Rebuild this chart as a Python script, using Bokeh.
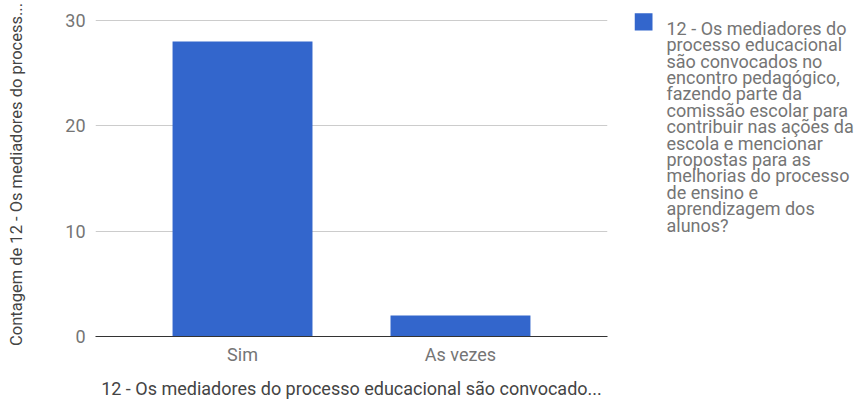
from bokeh.plotting import figure
from bokeh.models import ColumnDataSource, FactorRange, Range1d, FixedTicker
from bokeh.layouts import row
from bokeh.embed import file_html
from bokeh.resources import INLINE

categories = ["Sim", "As vezes"]
counts = [28, 2]
y_ticks = [0, 10, 20, 30]
series_lines = ["12 - Os mediadores do", "processo educacional", "são convocados no",
                "encontro pedagógico,", "fazendo parte da", "comissão escolar para",
                "contribuir nas ações da", "escola e mencionar", "propostas para as",
                "melhorias do processo", "de ensino e", "aprendizagem dos", "alunos?"]
x_title = "12 - Os mediadores do processo educacional são convocado..."
y_title = "Contagem de 12 - Os mediadores do process..."

FONT = "Roboto"
GREY = "#757575"
BLUE = "#3366cc"

src = ColumnDataSource(dict(cat=categories, val=counts))

# frame spans y 12..336; 30 gridline sits at y 20
p = figure(width=634, height=401, output_backend="svg", toolbar_location=None,
           x_range=FactorRange(*categories, range_padding=0.1745),
           y_range=Range1d(0, 30.76),
           min_border_left=95, min_border_right=27, min_border_top=12, min_border_bottom=65)
p.outline_line_color = None
p.background_fill_color = "white"
p.border_fill_color = "white"

p.vbar(x="cat", top="val", width=0.642, source=src, fill_color=BLUE, line_color=None)

p.xgrid.grid_line_color = None
p.ygrid.grid_line_color = "#cccccc"
p.ygrid.grid_line_width = 1

p.yaxis.ticker = FixedTicker(ticks=y_ticks)
for ax in (p.xaxis[0], p.yaxis[0]):
    ax.major_tick_line_color = None
    ax.minor_tick_line_color = None
    ax.major_label_text_font = FONT
    ax.major_label_text_font_size = "18px"
    ax.major_label_text_color = GREY
    ax.axis_label_text_font = FONT
    ax.axis_label_text_font_style = "normal"
    ax.axis_label_text_color = "#444444"
    ax.major_tick_out = 0
    ax.major_tick_in = 0

p.yaxis.axis_line_color = None
p.yaxis.major_label_standoff = 10
p.yaxis.axis_label = y_title
p.yaxis.axis_label_text_font_size = "16.5px"
p.yaxis.axis_label_standoff = 36

p.xaxis.axis_line_color = "#333333"
p.xaxis.axis_line_width = 1
p.xaxis.major_label_standoff = 7
p.xaxis.axis_label = x_title
p.xaxis.axis_label_text_font_size = "18px"
p.xaxis.axis_label_standoff = 10

# legend panel (its frame is aligned with p's frame: y 12..336)
q = figure(width=222, height=401, output_backend="svg", toolbar_location=None,
           x_range=Range1d(634, 856), y_range=Range1d(336, 12),
           min_border_left=0, min_border_right=0, min_border_top=12, min_border_bottom=65)
q.axis.visible = False
q.grid.visible = False
q.outline_line_color = None
q.background_fill_color = "white"
q.border_fill_color = "white"

q.quad(left=[634], right=[652], top=[12.7], bottom=[30], fill_color=BLUE, line_color=None)
LINE_H = 16.4
q.text(x=[666] * len(series_lines),
       y=[27.7 + i * LINE_H for i in range(len(series_lines))],
       text=series_lines, text_font={"value": FONT}, text_font_size="18px",
       text_color=GREY, text_baseline="alphabetic", text_align="left")

layout = row(p, q, spacing=0)
open("out.html", "w").write(file_html(layout, INLINE))
